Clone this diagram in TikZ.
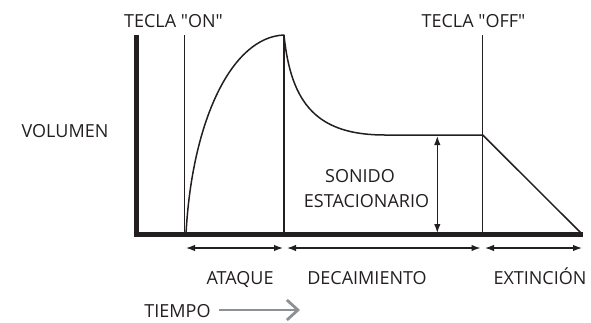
\documentclass[tikz,border=0pt]{standalone}
\usepackage{fontspec}
\setmainfont{Open Sans}
\usetikzlibrary{arrows.meta}
\definecolor{ink}{HTML}{231F20}
\definecolor{grayarrow}{HTML}{8C9196}
\begin{document}
\begin{tikzpicture}[x=1pt,y=-1pt,
  lbl/.style={anchor=base,inner sep=0pt,font=\fontsize{18}{20}\selectfont,text=ink},
  axis/.style={draw=ink,line width=4.6pt},
  thin/.style={draw=ink,line width=1.5pt},
  dim/.style={draw=ink,line width=1.3pt,{Latex[length=9pt,width=6.5pt]}-{Latex[length=9pt,width=6.5pt]}},
  timearrow/.style={draw=grayarrow,line width=2.8pt,-{Straight Barb[length=11pt,width=20pt,line width=2.8pt]}}]
\useasboundingbox (0,0) rectangle (591,322);
% coordinates
\coordinate (axtop) at (136.5,35);
\coordinate (origin) at (136.5,234.3);
\coordinate (axend) at (583,234.3);
\coordinate (ontop) at (184.3,35);
\coordinate (onbot) at (184.3,234);
\coordinate (peak) at (284,35);
\coordinate (peakbot) at (284,234);
\coordinate (offtop) at (482.7,35);
\coordinate (offbot) at (482.7,234);
\coordinate (start) at (186,234);
\coordinate (sustain) at (385,135);
\coordinate (release) at (482.7,135);
\coordinate (finish) at (582,234);
\coordinate (sustop) at (437.3,136);
\coordinate (susbot) at (437.3,233);
% arrow end points
\coordinate (a1) at (186,248);
\coordinate (a2) at (283,248);
\coordinate (d1) at (287,248);
\coordinate (d2) at (480.5,248);
\coordinate (e1) at (485,248);
\coordinate (e2) at (582,248);
\coordinate (t1) at (219,310);
\coordinate (t2) at (300,310);
% vertical lines
\draw[thin] (ontop) -- (onbot);
\draw[thin] (peak) -- (peakbot);
\draw[thin] (offtop) -- (offbot);
% envelope
\draw[thin,line join=round] (start) .. controls (192,120) and (232,37) .. (peak)
  .. controls (291,105) and (318,135) .. (sustain) -- (release) -- (finish);
% axes
\draw[axis] (axtop) -- (origin) -- (axend);
% dimension arrows
\draw[dim] (sustop) -- (susbot);
\draw[dim] (a1) -- (a2);
\draw[dim] (d1) -- (d2);
\draw[dim] (e1) -- (e2);
\draw[timearrow] (t1) -- (t2);
% labels
\node[lbl] (on) at (173.5,27) {TECLA \textquotedbl ON\textquotedbl};
\node[lbl] (off) at (473.5,27) {TECLA \textquotedbl OFF\textquotedbl};
\node[lbl] (vol) at (65,137) {VOLUMEN};
\node[lbl] (son) at (360,182) {SONIDO};
\node[lbl] (est) at (366.5,207) {ESTACIONARIO};
\node[lbl] (ata) at (240,284) {ATAQUE};
\node[lbl] (dec) at (367,284) {DECAIMIENTO};
\node[lbl] (ext) at (540,284) {EXTINCIÓN};
\node[lbl] (tie) at (177.5,317) {TIEMPO};
\end{tikzpicture}
\end{document}
